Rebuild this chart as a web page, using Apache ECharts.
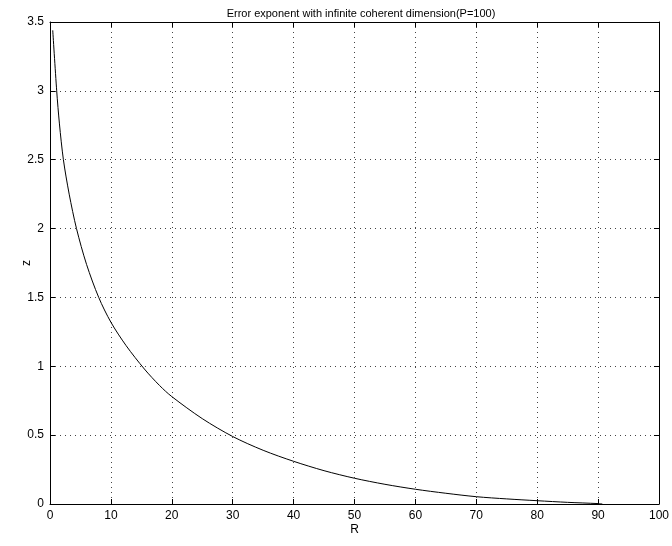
<!DOCTYPE html>
<html>
<head>
    <meta charset="utf-8">
    <title>Error exponent</title>
    <script src="https://cdn.jsdelivr.net/npm/echarts@6/dist/echarts.min.js"></script>
    <style>
        body { margin: 0; background: #fff; }
    </style>
</head>
<body>
<div id="chart" style="width: 672px; height: 546px;"></div>
<script>
    // values
    var rValues = [0.45, 1.1, 1.55, 2.2, 3.15, 4.35, 6, 8, 10, 12.5, 15.5, 18, 20, 25, 30, 35, 40, 45, 50, 55, 60, 65, 70, 75, 80, 85, 90, 90.7];
    var zValues = [3.44, 3.0, 2.76, 2.5, 2.25, 2.0, 1.74, 1.5, 1.32, 1.15, 0.98, 0.86, 0.78, 0.62, 0.49, 0.39, 0.31, 0.242, 0.187, 0.143, 0.107, 0.078, 0.053, 0.037, 0.024, 0.012, 0.003, 0];
    var xTicks = [0, 100, 10];
    var yTicks = [0, 3.5, 0.5];

    var points = rValues.map(function (r, i) { return [r, zValues[i]]; });

    var font = 'Liberation Sans, Arial, sans-serif';
    var black = '#000';

    function boxAxis(opts) {
        var base = {
            type: 'value',
            min: opts.range[0],
            max: opts.range[1],
            interval: opts.range[2],
            axisLine: { show: true, onZero: false, lineStyle: { color: black, width: 1 } },
            axisTick: { show: true, inside: true, length: 5, lineStyle: { color: black } },
            axisLabel: { show: opts.labels, color: black, fontSize: 12, fontFamily: font, margin: 6 },
            splitLine: { show: opts.split, lineStyle: { color: '#444', type: [1, 4], width: 1 } }
        };
        return Object.assign(base, opts.extra || {});
    }

    var chart = echarts.init(document.getElementById('chart'));
    chart.setOption({
        animation: false,
        title: {
            text: 'Error exponent with infinite coherent dimension(P=100)',
            left: 356,
            textAlign: 'center',
            top: 3,
            textStyle: { fontSize: 11, fontWeight: 'normal', color: black, fontFamily: font }
        },
        grid: { left: 50, right: 10, top: 22, bottom: 42 },
        xAxis: [
            boxAxis({ range: xTicks, labels: true, split: true,
                extra: { position: 'bottom', name: 'R', nameLocation: 'middle', nameGap: 20,
                    nameMoveOverlap: false,
                    nameTextStyle: { color: black, fontSize: 12, fontFamily: font } } }),
            boxAxis({ range: xTicks, labels: false, split: false, extra: { position: 'top' } })
        ],
        yAxis: [
            boxAxis({ range: yTicks, labels: true, split: true,
                extra: { position: 'left', name: 'z', nameLocation: 'middle', nameGap: 17,
                    nameMoveOverlap: false,
                    nameTextStyle: { color: black, fontSize: 12, fontFamily: font } } }),
            boxAxis({ range: yTicks, labels: false, split: false, extra: { position: 'right' } })
        ],
        series: [{
            type: 'line',
            data: points,
            smooth: 0.3,
            showSymbol: false,
            lineStyle: { color: black, width: 1 }
        }]
    });
</script>
</body>
</html>
